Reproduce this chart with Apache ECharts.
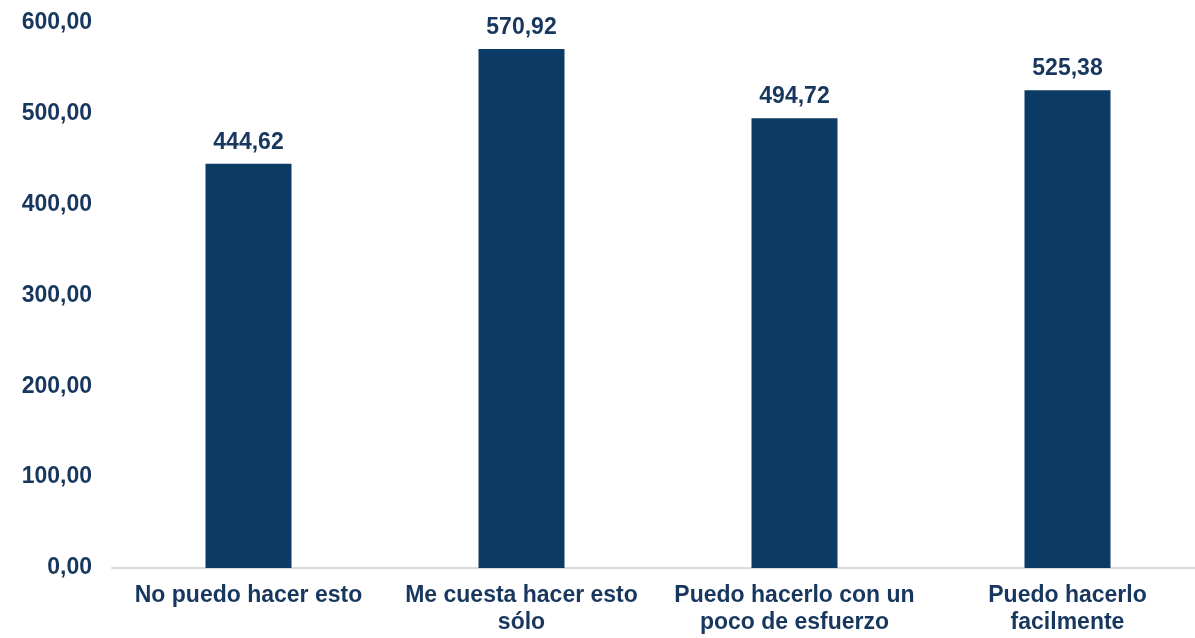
<!DOCTYPE html>
<html>
<head>
<meta charset="utf-8">
<script src="https://cdn.jsdelivr.net/npm/echarts@6/dist/echarts.min.js"></script>
<style>
html,body{margin:0;padding:0;background:#fff;}
#chart{width:1195px;height:638px;}
</style>
</head>
<body>
<div id="chart"></div>
<script>
const categories = ["No puedo hacer esto", "Me cuesta hacer esto\nsólo", "Puedo hacerlo con un\npoco de esfuerzo", "Puedo hacerlo\nfacilmente"];
const values = [444.62, 570.92, 494.72, 525.38];
const yTicks = { min: 0, max: 600, interval: 100 };

const fmt = v => v.toFixed(2).replace('.', ',');
const textColor = '#17375e';
const font = 'Liberation Sans, Arial, sans-serif';

const chart = echarts.init(document.getElementById('chart'));
chart.setOption({
  animation: false,
  grid: { left: 112, width: 1092, top: 22.5, bottom: 70, containLabel: false, outerBoundsMode: 'none' },
  xAxis: {
    type: 'category',
    data: categories,
    axisLine: { show: true, lineStyle: { color: '#d9d9d9', width: 2 } },
    axisTick: { show: false },
    axisLabel: {
      color: textColor, fontFamily: font, fontWeight: 'bold', fontSize: 23,
      lineHeight: 27, margin: 14, interval: 0
    }
  },
  yAxis: {
    type: 'value',
    min: yTicks.min, max: yTicks.max, interval: yTicks.interval,
    axisLine: { show: false },
    axisTick: { show: false },
    splitLine: { show: false },
    axisLabel: {
      color: textColor, fontFamily: font, fontWeight: 'bold', fontSize: 23,
      margin: 20, formatter: v => fmt(v)
    }
  },
  series: [{
    type: 'bar',
    data: values,
    barWidth: 86,
    itemStyle: { color: '#0b3a65' },
    label: {
      show: true, position: 'top', distance: 10,
      color: textColor, fontFamily: font, fontWeight: 'bold', fontSize: 23,
      formatter: p => fmt(p.value)
    }
  }]
});
</script>
</body>
</html>
